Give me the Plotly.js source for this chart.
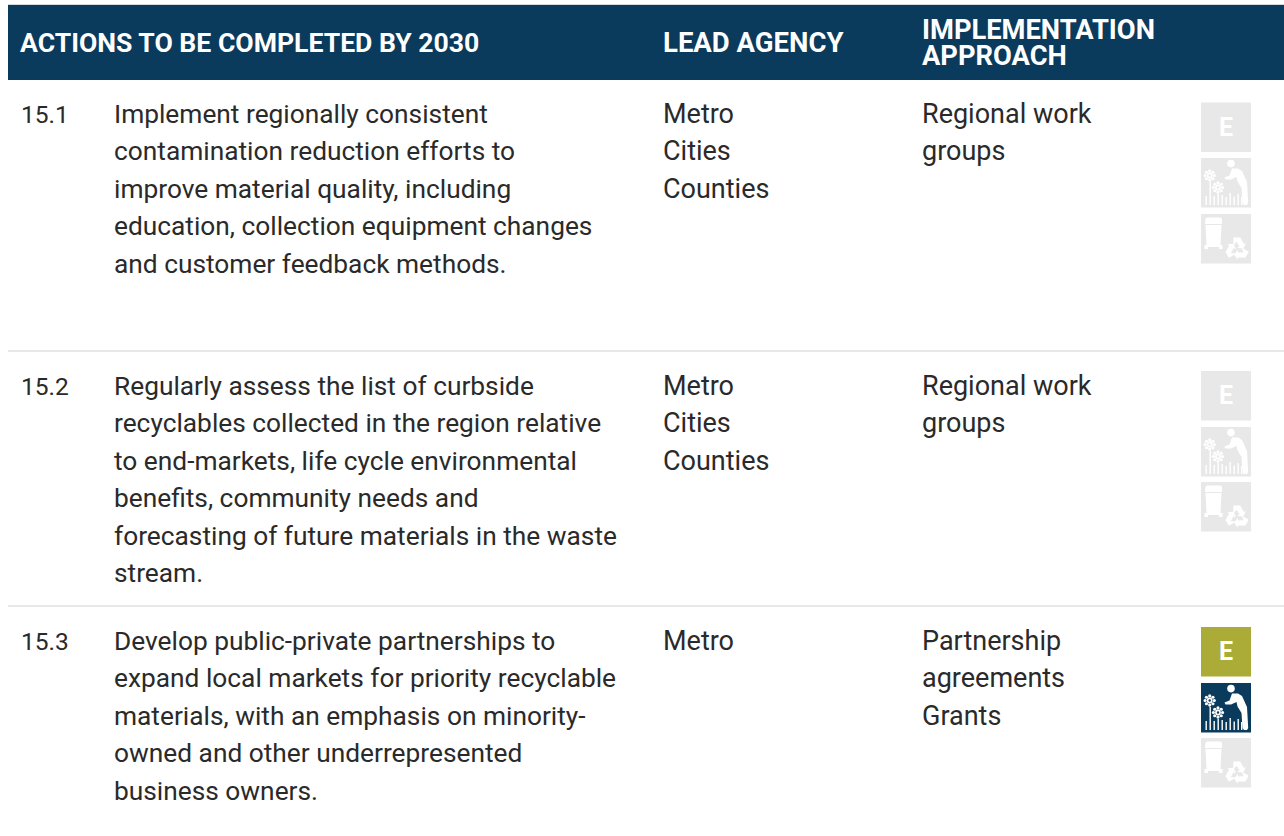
<!DOCTYPE html>
<html>
<head>
<meta charset="utf-8">
<script src="https://cdn.plot.ly/plotly-3.0.1.min.js"></script>
<style>html,body{margin:0;padding:0;background:#fff;overflow:hidden}#chart{width:1284px;height:836px}</style>
</head>
<body>
<div id="chart"></div>
<script>
// ---- table content ----
var headerActions = "ACTIONS TO BE COMPLETED BY 2030";
var headerAgency = "LEAD AGENCY";
var headerApproach = ["IMPLEMENTATION", "APPROACH"];
var actionIds = ["15.1", "15.2", "15.3"];
var actionText1 = ["Implement regionally consistent", "contamination reduction efforts to", "improve material quality, including", "education, collection equipment changes", "and customer feedback methods."];
var actionText2 = ["Regularly assess the list of curbside", "recyclables collected in the region relative", "to end-markets, life cycle environmental", "benefits, community needs and", "forecasting of future materials in the waste", "stream."];
var actionText3 = ["Develop public-private partnerships to", "expand local markets for priority recyclable", "materials, with an emphasis on minority-", "owned and other underrepresented", "business owners."];
var agencies1 = ["Metro", "Cities", "Counties"];
var agencies2 = ["Metro", "Cities", "Counties"];
var agencies3 = ["Metro"];
var approach1 = ["Regional work", "groups"];
var approach2 = ["Regional work", "groups"];
var approach3 = ["Partnership", "agreements", "Grants"];
// icon active flags per row: [E, person, bin]
var iconsActive1 = [false, false, false];
var iconsActive2 = [false, false, false];
var iconsActive3 = [true, true, false];

// ---- layout constants ----
var NAVY = "#0a3a5c", OLIVE = "#abab38", GREY = "#e8e8e8", INK = "#2a2a2a", RULE = "#dfe1e3";
var BODY_FONT = "Roboto, sans-serif";
var colId = 19.5, colAction = 112.8, colAgency = 662, colApproach = 920.5;
var firstLineY = [114, 386, 641], lineStep = 37.45;
var iconX = 1201, iconTops = [[102.5, 158, 214], [371, 427, 482], [627, 683, 738]], iconW = 50, iconH = 49.5;
var ACTION_SIZE = 26.3, SIDE_SIZE = 27, ID_SIZE = 24.5;

var annotations = [], shapes = [];
function label(x, y, text, size, color, bold, anchor) {
  annotations.push({xref: "x", yref: "y", x: x, y: y, text: bold ? "<b>" + text + "</b>" : text, showarrow: false,
    xanchor: anchor || "left", yanchor: "middle", borderpad: 0,
    font: {family: BODY_FONT, size: size, color: color}});
}
function lines(x, y0, arr, size) { arr.forEach(function (t, i) { label(x, y0 + i * lineStep, t, size, INK); }); }

// header
shapes.push({type: "rect", xref: "x", yref: "y", x0: 8, x1: 1284, y0: 4, y1: 5.5, fillcolor: "#d5dade", line: {width: 0}});
shapes.push({type: "rect", xref: "x", yref: "y", x0: 8, x1: 1284, y0: 5, y1: 80, fillcolor: NAVY, line: {width: 0}});
label(18.5, 42.5, headerActions, 26.6, "#fff", true);
label(662, 42.5, headerAgency, 27.5, "#fff", true);
label(920.5, 30, headerApproach[0], 27.3, "#fff", true);
label(920.5, 56, headerApproach[1], 27.3, "#fff", true);

// row rules
[351, 606].forEach(function (y) {
  shapes.push({type: "line", xref: "x", yref: "y", x0: 8, x1: 1284, y0: y, y1: y, line: {color: RULE, width: 1.5}});
});

// icons, drawn in a local 50x50 box
function poly(ox, oy, pts, fill) {
  var d = pts.map(function (p, i) { return (i ? "L" : "M") + (ox + p[0]) + "," + (oy + p[1]); }).join(" ") + " Z";
  shapes.push({type: "path", xref: "x", yref: "y", path: d, fillcolor: fill, line: {width: 0}});
}
function disc(ox, oy, cx, cy, r, fill) {
  shapes.push({type: "circle", xref: "x", yref: "y", x0: ox + cx - r, x1: ox + cx + r, y0: oy + cy - r, y1: oy + cy + r, fillcolor: fill, line: {width: 0}});
}
function tile(ox, oy, fill) {
  shapes.push({type: "rect", xref: "x", yref: "y", x0: ox, x1: ox + iconW, y0: oy, y1: oy + iconH, fillcolor: fill, line: {width: 0}});
}
function flower(ox, oy, cx, cy, bg) {
  for (var k = 0; k < 8; k++) {
    var a = k * Math.PI / 4;
    disc(ox, oy, cx + 4.6 * Math.cos(a), cy + 4.6 * Math.sin(a), 1.6, "#fff");
  }
  disc(ox, oy, cx, cy, 2.9, "#fff");
  disc(ox, oy, cx, cy, 1.2, bg);
}
function drawE(ox, oy, active) {
  tile(ox, oy, active ? OLIVE : GREY);
  label(ox + 25, oy + 24.5, "E", 25, "#fff", true, "center");
}
function drawPerson(ox, oy, active) {
  var bg = active ? NAVY : GREY;
  tile(ox, oy, bg);
  disc(ox, oy, 30, 5.6, 3.8, "#fff");
  poly(ox, oy, [[31, 10.5], [37, 10.5], [41, 13], [46, 24], [47.2, 45], [46, 47], [43, 47], [41.5, 45], [40.5, 30], [36.5, 23.5], [35.5, 19], [30, 21.5], [24.5, 21.5], [23.5, 19.5], [28.5, 17.5]], "#fff");
  flower(ox, oy, 8.7, 17.5, bg);
  flower(ox, oy, 17, 29.5, bg);
  var fence = [[4.5, 38], [8.5, 24], [12.5, 38], [16.5, 36], [20.5, 37], [24.5, 39], [28.5, 35], [32.5, 38.5], [36.5, 36], [40, 39]];
  fence.forEach(function (b) {
    poly(ox, oy, [[b[0], b[1]], [b[0] + 1.4, b[1]], [b[0] + 1.4, 47], [b[0], 47]], "#fff");
  });
}
function drawBin(ox, oy, active) {
  tile(ox, oy, active ? NAVY : GREY);
  poly(ox, oy, [[4.5, 4.5], [6, 3.5], [19, 3.5], [21, 4.5], [21, 10], [4, 10]], "#fff");
  poly(ox, oy, [[4.5, 11], [20.5, 11], [19.5, 31], [21.5, 31], [21.5, 35], [18, 35], [18, 33], [7, 33], [7, 35], [3.5, 35], [3.5, 31], [5.5, 31]], "#fff");
  var cx = 36, cy = 35, arrow = [[-3.6, -11.5], [3.2, -11.5], [7, -5], [9, -6], [6.3, -0.5], [0.3, -1], [2.4, -2.6], [-0.5, -7.5], [-3.6, -3]];
  [0, 120, 240].forEach(function (deg) {
    var a = deg * Math.PI / 180;
    poly(ox, oy, arrow.map(function (p) {
      return [cx + p[0] * Math.cos(a) - p[1] * Math.sin(a), cy + p[0] * Math.sin(a) + p[1] * Math.cos(a)];
    }), "#fff");
  });
}

// rows
var rows = [
  [actionText1, agencies1, approach1, iconsActive1],
  [actionText2, agencies2, approach2, iconsActive2],
  [actionText3, agencies3, approach3, iconsActive3]
];
rows.forEach(function (r, i) {
  var y0 = firstLineY[i];
  label(colId, y0, actionIds[i], ID_SIZE, INK);
  lines(colAction, y0, r[0], ACTION_SIZE);
  lines(colAgency, y0, r[1], SIDE_SIZE);
  lines(colApproach, y0, r[2], SIDE_SIZE);
  drawE(iconX, iconTops[i][0], r[3][0]);
  drawPerson(iconX, iconTops[i][1], r[3][1]);
  drawBin(iconX, iconTops[i][2], r[3][2]);
});

Plotly.newPlot("chart", [{type: "scatter", x: [], y: [], mode: "markers", hoverinfo: "skip", showlegend: false}], {
  width: 1284, height: 836,
  margin: {l: 0, r: 0, t: 0, b: 0, pad: 0},
  paper_bgcolor: "#fff", plot_bgcolor: "#fff", showlegend: false,
  xaxis: {range: [0, 1284], visible: false, fixedrange: true},
  yaxis: {range: [836, 0], visible: false, fixedrange: true},
  shapes: shapes, annotations: annotations
}, {displayModeBar: false, staticPlot: true});
</script>
</body>
</html>
